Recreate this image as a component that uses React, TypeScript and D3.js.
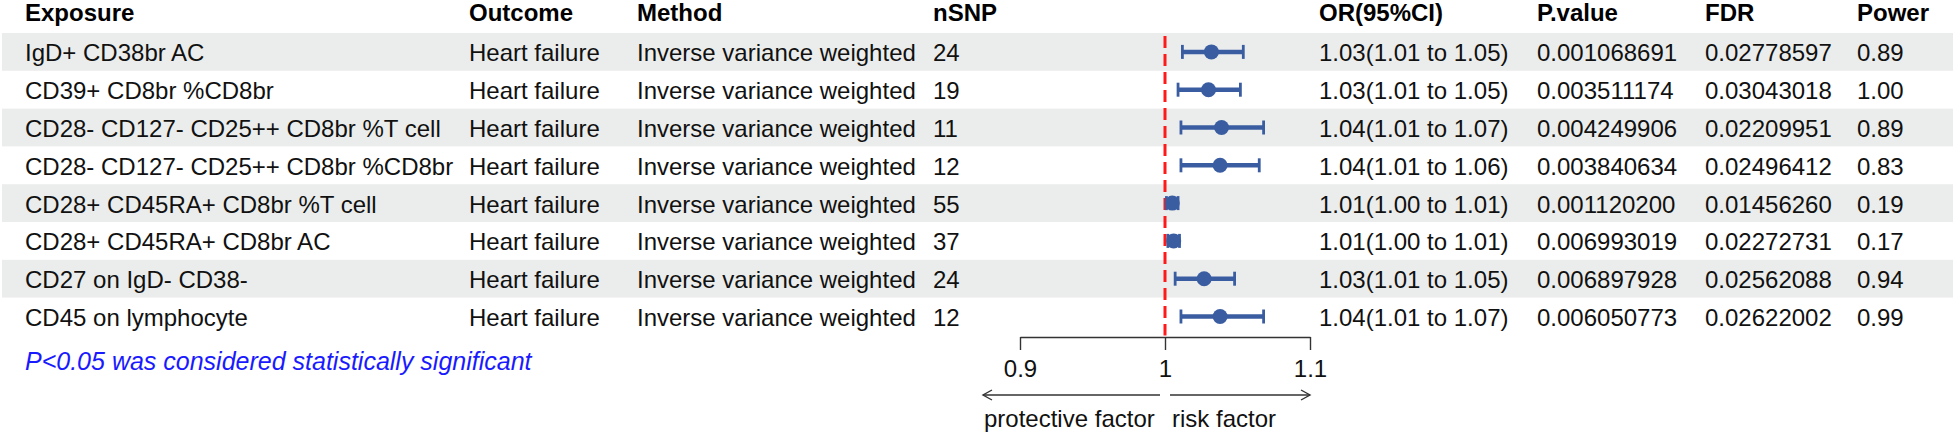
import { useEffect, useRef } from 'react';
import * as d3 from 'd3';

const exposures = [
  'IgD+ CD38br AC',
  'CD39+ CD8br %CD8br',
  'CD28- CD127- CD25++ CD8br %T cell',
  'CD28- CD127- CD25++ CD8br %CD8br',
  'CD28+ CD45RA+ CD8br %T cell',
  'CD28+ CD45RA+ CD8br AC',
  'CD27 on IgD- CD38-',
  'CD45 on lymphocyte',
];
const outcomes = Array.from({ length: 8 }, () => 'Heart failure');
const methods = Array.from({ length: 8 }, () => 'Inverse variance weighted');
const nsnp = [24, 19, 11, 12, 55, 37, 24, 12];
const orEst = [1.032, 1.03, 1.039, 1.038, 1.005, 1.006, 1.027, 1.038];
const orLow = [1.012, 1.009, 1.011, 1.011, 1.001, 1.002, 1.007, 1.011];
const orHigh = [1.054, 1.052, 1.068, 1.065, 1.009, 1.01, 1.048, 1.068];
const orText = [
  '1.03(1.01 to 1.05)',
  '1.03(1.01 to 1.05)',
  '1.04(1.01 to 1.07)',
  '1.04(1.01 to 1.06)',
  '1.01(1.00 to 1.01)',
  '1.01(1.00 to 1.01)',
  '1.03(1.01 to 1.05)',
  '1.04(1.01 to 1.07)',
];
const pValues = [
  '0.001068691', '0.003511174', '0.004249906', '0.003840634',
  '0.001120200', '0.006993019', '0.006897928', '0.006050773',
];
const fdr = [
  '0.02778597', '0.03043018', '0.02209951', '0.02496412',
  '0.01456260', '0.02272731', '0.02562088', '0.02622002',
];
const power = ['0.89', '1.00', '0.89', '0.83', '0.19', '0.17', '0.94', '0.99'];
const ticks = [0.9, 1, 1.1];

const W = 1955;
const H = 433;
const FONT = "'Liberation Sans', Arial, Helvetica, sans-serif";
const FS = 24;

export default function App() {
  const svgRef = useRef<SVGSVGElement>(null);

  useEffect(() => {
    document.body.style.margin = '0';
    if (!svgRef.current) return;
    const svg = d3.select(svgRef.current);
    svg.selectAll('*').remove();

    const top = 33;
    const rowH = 37.8;
    const rowY = (i: number) => top + i * rowH;
    const x = d3.scaleLinear().domain([0.9, 1.1]).range([1020, 1310]);

    // 隔行底色
    svg
      .append('g')
      .selectAll('rect')
      .data(exposures.filter((_, i) => i % 2 === 0).map((_, k) => k * 2))
      .join('rect')
      .attr('x', 2)
      .attr('y', (i) => rowY(i))
      .attr('width', W - 4)
      .attr('height', rowH)
      .attr('fill', '#ebedec');

    const cols = [
      { title: 'Exposure', x: 25, vals: exposures },
      { title: 'Outcome', x: 469, vals: outcomes },
      { title: 'Method', x: 637, vals: methods },
      { title: 'nSNP', x: 933, vals: nsnp.map(String) },
      { title: 'OR(95%CI)', x: 1319, vals: orText },
      { title: 'P.value', x: 1537, vals: pValues },
      { title: 'FDR', x: 1705, vals: fdr },
      { title: 'Power', x: 1857, vals: power },
    ];

    const g = svg.append('g').attr('font-family', FONT).attr('font-size', FS);
    cols.forEach((c) => {
      g.append('text')
        .attr('x', c.x)
        .attr('y', 13)
        .attr('dy', '0.35em')
        .attr('font-weight', 'bold')
        .text(c.title);
      g.append('g')
        .selectAll('text')
        .data(c.vals)
        .join('text')
        .attr('x', c.x)
        .attr('y', (_, i) => rowY(i) + rowH / 2 + 1)
        .attr('dy', '0.35em')
        .attr('fill', '#111')
        .text((d) => d);
    });

    // 参考线
    svg
      .append('line')
      .attr('x1', x(1))
      .attr('x2', x(1))
      .attr('y1', rowY(0) + 3)
      .attr('y2', rowY(8))
      .attr('stroke', '#ff1a1a')
      .attr('stroke-width', 3)
      .attr('stroke-dasharray', '12,6');

    // 置信区间
    const ci = svg.append('g').attr('stroke', '#3a5da2').attr('fill', '#3a5da2');
    exposures.forEach((_, i) => {
      const cy = rowY(i) + rowH / 2;
      ci.append('line')
        .attr('x1', x(orLow[i]))
        .attr('x2', x(orHigh[i]))
        .attr('y1', cy)
        .attr('y2', cy)
        .attr('stroke-width', 4.5);
      [orLow[i], orHigh[i]].forEach((v) => {
        ci.append('line')
          .attr('x1', x(v))
          .attr('x2', x(v))
          .attr('y1', cy - 7)
          .attr('y2', cy + 7)
          .attr('stroke-width', 2.8);
      });
      ci.append('circle').attr('cx', x(orEst[i])).attr('cy', cy).attr('r', 7.5).attr('stroke', 'none');
    });

    // 坐标轴
    const axisY = 337;
    const ax = svg
      .append('g')
      .attr('transform', `translate(0,${axisY})`)
      .call(
        d3
          .axisBottom(x)
          .tickValues(ticks)
          .tickSizeOuter(0)
          .tickSizeInner(13)
          .tickPadding(10)
          .tickFormat((d) => d3.format('')(d as number))
      );
    ax.select('.domain').attr('stroke', '#333').attr('stroke-width', 1.4);
    ax.selectAll('.tick line').attr('stroke', '#333').attr('stroke-width', 1.4);
    ax.selectAll('.tick text')
      .attr('font-family', FONT)
      .attr('font-size', FS)
      .attr('fill', '#111');

    // 箭头
    const arrowY = 395;
    const arr = svg.append('g').attr('stroke', '#333').attr('stroke-width', 1.4).attr('fill', 'none');
    const lx1 = x(1) - 5;
    const lx0 = x(0.9) - 37;
    const rx0 = x(1) + 5;
    const rx1 = x(1.1);
    arr.append('line').attr('x1', lx0).attr('x2', lx1).attr('y1', arrowY).attr('y2', arrowY);
    arr.append('path').attr('d', `M${lx0 + 9},${arrowY - 5}L${lx0},${arrowY}L${lx0 + 9},${arrowY + 5}`);
    arr.append('line').attr('x1', rx0).attr('x2', rx1).attr('y1', arrowY).attr('y2', arrowY);
    arr.append('path').attr('d', `M${rx1 - 9},${arrowY - 5}L${rx1},${arrowY}L${rx1 - 9},${arrowY + 5}`);

    const lab = svg.append('g').attr('font-family', FONT).attr('font-size', FS).attr('fill', '#111');
    lab.append('text').attr('x', lx0 + 1).attr('y', 419).attr('dy', '0.35em').text('protective factor');
    lab.append('text').attr('x', rx0 + 2).attr('y', 419).attr('dy', '0.35em').text('risk factor');

    // 注释
    svg
      .append('text')
      .attr('x', 25)
      .attr('y', 361)
      .attr('dy', '0.35em')
      .attr('font-family', FONT)
      .attr('font-size', 25)
      .attr('font-style', 'italic')
      .attr('fill', '#1a1aff')
      .text('P<0.05 was considered statistically significant');
  }, []);

  return <svg ref={svgRef} width={W} height={H} style={{ display: 'block', background: '#fff' }} />;
}
